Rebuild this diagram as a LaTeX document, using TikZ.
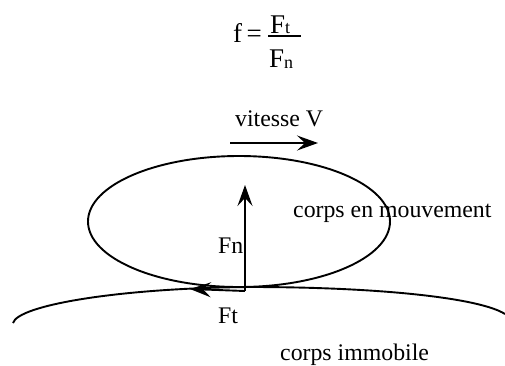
\documentclass[tikz,border=0pt]{standalone}
\usepackage{fontspec}
\setmainfont{Liberation Serif}
\usetikzlibrary{shapes.geometric,arrows.meta}
\begin{document}
\begin{tikzpicture}[x=1pt,y=-1pt,
  lbl/.style={anchor=base west,inner sep=0pt,font=\fontsize{23.8}{28}\selectfont},
  fml/.style={anchor=base west,inner sep=0pt,font=\fontsize{27}{30}\selectfont},
  ln/.style={line width=1.9pt},
  arr/.style={line width=1.9pt,-{Stealth[length=21pt,width=15pt,inset=8pt]}}]
\useasboundingbox (0,0) rectangle (505,365);
% formula
\node[fml] (f) at (233,42) {f\,=};
\node[fml] (num) at (270,33) {F\raisebox{-0.5pt}{\fontsize{18}{18}\selectfont t}};
\node[fml] (den) at (269,67) {F\raisebox{-1.5pt}{\fontsize{18}{18}\selectfont n}};
\coordinate (barL) at (268,36);
\coordinate (barR) at (301,36);
\draw[line width=2pt] (barL) -- (barR);
% velocity
\node[lbl] (vit) at (235,126) {vitesse V};
\coordinate (vA) at (230,143);
\coordinate (vB) at (318,143);
\draw[arr] (vA) -- (vB);
% moving body
\node[draw,ln,ellipse,minimum width=302pt,minimum height=131pt,inner sep=0pt,outer sep=0pt] (body) at (239,221.5) {};
\node[lbl] (mv) at (293,217) {corps en mouvement};
% fixed body
\coordinate (gL) at (13,323);
\coordinate (gT) at (250,287);
\coordinate (gR) at (505,314);
\draw[ln] (gL) .. controls (18,305) and (120,288) .. (gT) .. controls (380,287) and (480,298) .. (gR);
\node[lbl] (im) at (280,360) {corps immobile};
% forces
\coordinate (c) at (245,291);
\coordinate (fnT) at (245,185);
\coordinate (ftT) at (190,289);
\draw[arr] (c) -- (fnT);
\draw[arr] (c) -- (ftT);
\node[lbl] (fn) at (218,253) {Fn};
\node[lbl] (ft) at (218,323) {Ft};
\end{tikzpicture}
\end{document}
